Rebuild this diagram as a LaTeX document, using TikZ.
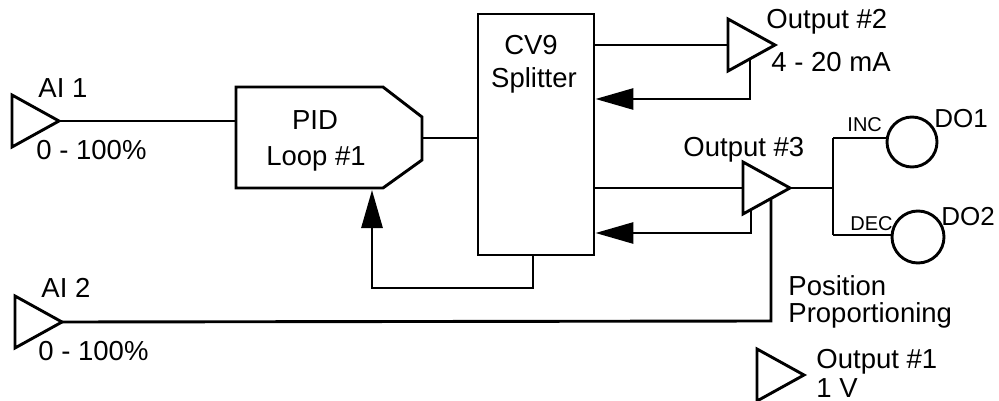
\documentclass[tikz,border=0pt]{standalone}
\usepackage{fontspec}
\setmainfont{Liberation Sans}
\usetikzlibrary{arrows.meta}

\begin{document}
\begin{tikzpicture}[x=1pt,y=-1pt,line width=2.9pt,
    lbl/.style={anchor=base west,inner sep=0pt,font=\fontsize{27.5}{32}\selectfont},
    ctr/.style={anchor=base,inner sep=0pt,font=\fontsize{27.5}{32}\selectfont},
    tag/.style={anchor=base west,inner sep=0pt,font=\fontsize{20}{24}\selectfont},
    fb/.style={-{Triangle[length=38pt,width=21pt]}}]
    \useasboundingbox (0,0) rectangle (999,401);

    % amplifier triangles: name / left x / middle y
    \foreach \n/\x/\y in {ai1/12/121, ai2/15/322, out2/728/45, out3/743/188, out1/757/375} {
        \coordinate (\n-in) at (\x,\y);
        \draw (\x,\y-26) -- (\x+47,\y) coordinate (\n) -- (\x,\y+26) -- cycle;
    }

    % PID block with chamfered right side
    \draw (236,87) coordinate (pid-nw) -- (383,87) -- (422,117) -- (422,160)
        -- (383,188) -- (236,188) -- cycle;
    \coordinate (pid-out) at (422,138);
    \coordinate (pid-fb) at (372,190);
    \node[ctr] (pid-a) at (315,130) {PID};
    \node[ctr] (pid-b) at (316,165) {Loop \#1};

    % splitter
    \node[draw,minimum width=116pt,minimum height=241pt,inner sep=0pt] (cv9) at (536,134.5) {};
    \node[ctr] (cv9-a) at (531,55) {CV9};
    \node[ctr] (cv9-b) at (534,88) {Splitter};

    % digital outputs
    \node[draw,circle,minimum size=50pt,inner sep=0pt] (do1) at (912,142) {};
    \node[draw,circle,minimum size=52pt,inner sep=0pt] (do2) at (918,237) {};

    % taps and bends
    \coordinate (tap2) at (750,58);
    \coordinate (ret2) at (750,99);
    \coordinate (tap3) at (751,210);
    \coordinate (ret3) at (751,233);
    \coordinate (pp) at (771,199);
    \coordinate (pp-end) at (771,321);
    \coordinate (jn) at (833,188);
    \coordinate (inc) at (833,138);
    \coordinate (dec) at (833,235);
    \coordinate (fbk) at (533,288);

    % signal lines
    \draw (ai1) -- (ai1 -| pid-nw);
    \draw (pid-out) -- (pid-out -| cv9.west);
    \draw (cv9.east |- out2-in) -- (out2-in);
    \draw (cv9.east |- out3-in) -- (out3-in);
    \draw[fb] (tap2) -- (ret2) -- (ret2 -| cv9.east);
    \draw[fb] (tap3) -- (ret3) -- (ret3 -| cv9.east);
    \draw[fb] (cv9.south -| fbk) -- (fbk) -| (pid-fb);
    \draw (ai2) -- (pp-end) -- (pp);
    \draw (out3) -- (jn);
    \draw (inc) -- (dec);
    \draw (inc) -- (inc -| do1.west);
    \draw (dec) -- (dec -| do2.west);

    % labels
    \node[lbl] (ai1-name) at (37,98) {AI 1};
    \node[lbl] (ai1-range) at (35,160) {0 - 100\%};
    \node[lbl] (ai2-name) at (40,297) {AI 2};
    \node[lbl] (ai2-range) at (37,360) {0 - 100\%};
    \node[lbl] (out2-name) at (765,29) {Output \#2};
    \node[lbl] (out2-range) at (770,72) {4 - 20 mA};
    \node[lbl] (out3-name) at (682,157) {Output \#3};
    \node[lbl] (out1-name) at (815,368) {Output \#1};
    \node[lbl] (out1-range) at (815,397) {1 V};
    \node[lbl] (pp-a) at (787,295) {Position};
    \node[lbl] (pp-b) at (787,322) {Proportioning};
    \node[tag] (inc-name) at (846,132) {INC};
    \node[tag] (dec-name) at (849,230) {DEC};
    \node[lbl,font=\fontsize{26}{30}\selectfont] (do1-name) at (933,128) {DO1};
    \node[lbl,font=\fontsize{26}{30}\selectfont] (do2-name) at (940,225) {DO2};
\end{tikzpicture}
\end{document}
